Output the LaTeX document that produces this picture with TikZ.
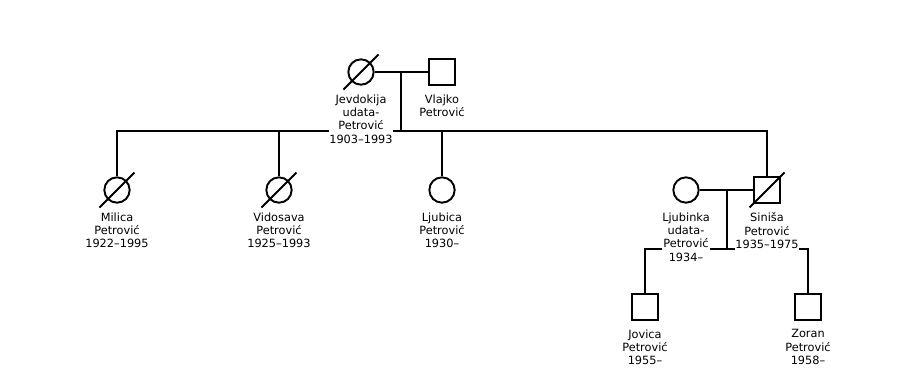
\documentclass[tikz,border=0pt]{standalone}
\usepackage{fontspec}
\setmainfont{DejaVu Sans}
\begin{document}
\begin{tikzpicture}[x=0.75pt,y=-0.75pt,
  every path/.style={line width=1.45pt},
  fem/.style={draw,circle,minimum size=19pt,inner sep=0pt,line width=1.45pt},
  mal/.style={draw,rectangle,minimum size=20pt,inner sep=0pt,line width=1.45pt},
  lbl/.style={anchor=north,fill=white,align=center,inner xsep=0.5pt,inner ysep=2pt,
    font=\fontsize{8.5pt}{10pt}\selectfont}]
\useasboundingbox (0,0) rectangle (924,383);
% people
\node[fem] (jev) at (361,72) {};
\node[mal] (vla) at (442,72) {};
\node[fem] (mil) at (117,190) {};
\node[fem] (vid) at (279,190) {};
\node[fem] (ljc) at (442,190) {};
\node[fem] (ljk) at (686,190) {};
\node[mal] (sin) at (767,190) {};
\node[mal] (jov) at (645,307) {};
\node[mal] (zor) at (808,307) {};
% deceased slashes
\foreach \n in {jev,mil,vid,sin}
  \draw ([shift={(-17.5,17.5)}]\n.center) -- ([shift={(17.5,-17.5)}]\n.center);
% coordinates
\coordinate (m1) at (401,72);
\coordinate (s1) at (401,131);
\coordinate (m2) at (727,190);
\coordinate (s2) at (727,249);
% connectors
\draw (jev) -- (vla);
\draw (m1) -- (s1);
\draw (mil) -- (mil |- s1) -- (sin |- s1) -- (sin);
\draw (vid) -- (vid |- s1);
\draw (ljc) -- (ljc |- s1);
\draw (ljk) -- (sin);
\draw (m2) -- (s2);
\draw (jov) -- (jov |- s2) -- (zor |- s2) -- (zor);
% labels
\node[lbl] (ljev) at (361,91) {Jevdokija\\udata-\\Petrović\\1903–1993};
\node[lbl] (lvla) at (442,91) {Vlajko\\Petrović};
\node[lbl] (lmil) at (117,209) {Milica\\Petrović\\1922–1995};
\node[lbl] (lvid) at (279,209) {Vidosava\\Petrović\\1925–1993};
\node[lbl] (lljc) at (442,209) {Ljubica\\Petrović\\1930–};
\node[lbl] (lljk) at (686,209) {Ljubinka\\udata-\\Petrović\\1934–};
\node[lbl] (lsin) at (767,209) {Siniša\\Petrović\\1935–1975};
\node[lbl] (ljov) at (645,326) {Jovica\\Petrović\\1955–};
\node[lbl] (lzor) at (808,326) {Zoran\\Petrović\\1958–};
\end{tikzpicture}
\end{document}
